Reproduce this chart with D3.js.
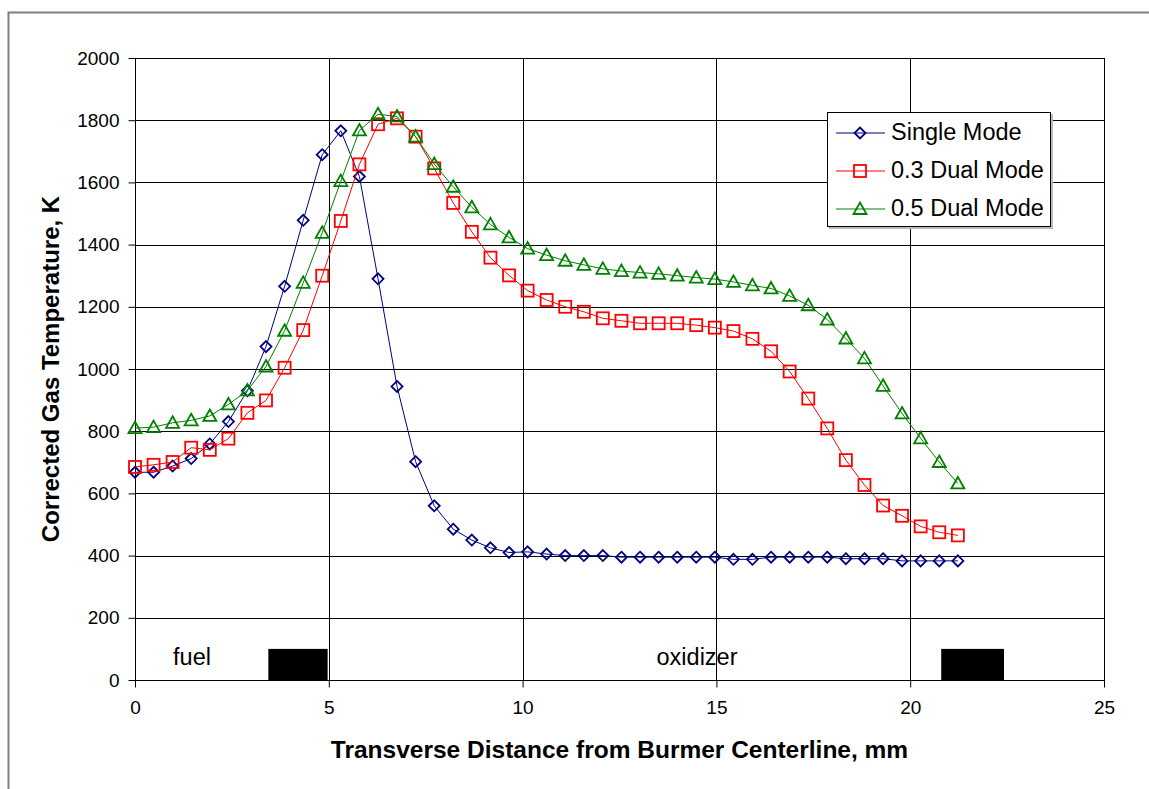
<!DOCTYPE html>
<html>
<head>
<meta charset="utf-8">
<script src="https://cdn.jsdelivr.net/npm/d3@7"></script>
<style>
  body { margin: 0; background: #fff; }
  svg { display: block; font-family: "Liberation Sans", Arial, sans-serif; }
</style>
</head>
<body>
<div id="chart"></div>
<script>
// positions across the burner, mm
const distance = [0, 0.48, 0.97, 1.45, 1.93, 2.41, 2.90, 3.38, 3.86, 4.34, 4.83, 5.31, 5.79, 6.27, 6.76,
  7.24, 7.72, 8.21, 8.69, 9.17, 9.65, 10.13, 10.62, 11.10, 11.58, 12.07, 12.55, 13.03, 13.51, 13.99,
  14.48, 14.96, 15.44, 15.93, 16.41, 16.89, 17.37, 17.86, 18.34, 18.82, 19.30, 19.79, 20.27, 20.75, 21.23];

const singleMode = [668, 668, 688, 712, 759, 831, 930, 1072, 1266, 1478, 1689, 1766, 1619, 1290, 944,
  702, 560, 485, 450, 425, 410, 412, 405, 400, 400, 400, 395, 395, 395, 395,
  395, 395, 388, 388, 395, 395, 395, 395, 390, 390, 390, 383, 383, 383, 383];

const dual03 = [685, 692, 701, 747, 740, 776, 859, 899, 1004, 1125, 1300, 1476, 1658, 1787, 1806,
  1747, 1645, 1534, 1441, 1358, 1301, 1252, 1222, 1200, 1184, 1163, 1155, 1147, 1147, 1147,
  1141, 1133, 1122, 1097, 1057, 992, 905, 809, 707, 627, 561, 528, 494, 475, 465];

const dual05 = [810, 813, 827, 835, 849, 886, 931, 1008, 1123, 1277, 1438, 1604, 1767, 1819, 1812,
  1747, 1659, 1586, 1520, 1465, 1423, 1387, 1366, 1348, 1335, 1322, 1315, 1310, 1306, 1300,
  1294, 1289, 1280, 1269, 1259, 1235, 1205, 1159, 1098, 1034, 946, 857, 777, 701, 632];

const seriesNames = ["Single Mode", "0.3 Dual Mode", "0.5 Dual Mode"];

// black blocks marking the fuel and oxidizer slots: [from, to, height]
const slots = [[3.44, 4.97, 100], [20.8, 22.42, 100]];
const slotLabels = [["fuel", 1.47], ["oxidizer", 14.5]];

const xTicks = [0, 5, 10, 15, 20, 25];
const yTicks = [0, 200, 400, 600, 800, 1000, 1200, 1400, 1600, 1800, 2000];

const width = 1149, height = 789;
const margin = { top: 58, left: 135, right: 45, bottom: 109 };

const svg = d3.select("#chart").append("svg")
  .attr("width", width)
  .attr("height", height);

// outer chart frame
svg.append("rect")
  .attr("x", 8.5).attr("y", 12.5)
  .attr("width", width + 20).attr("height", height + 20)
  .attr("fill", "none")
  .attr("stroke", "#808080")
  .attr("stroke-width", 2);

const x = d3.scaleLinear().domain([0, 25]).range([margin.left, width - margin.right]);
const y = d3.scaleLinear().domain([0, 2000]).range([height - margin.bottom, margin.top]);

const plotW = x(25) - x(0), plotH = y(0) - y(2000);

// grid
svg.append("g").selectAll("line")
  .data(yTicks.slice(1, -1)).enter().append("line")
  .attr("x1", x(0)).attr("x2", x(25))
  .attr("y1", d => Math.round(y(d)) + 0.5).attr("y2", d => Math.round(y(d)) + 0.5)
  .attr("stroke", "#000").attr("stroke-width", 1);

svg.append("g").selectAll("line")
  .data(xTicks.slice(1, -1)).enter().append("line")
  .attr("y1", y(0)).attr("y2", y(2000))
  .attr("x1", d => Math.round(x(d)) + 0.5).attr("x2", d => Math.round(x(d)) + 0.5)
  .attr("stroke", "#000").attr("stroke-width", 1);

// plot border
svg.append("rect")
  .attr("x", Math.round(x(0)) + 0.5).attr("y", Math.round(y(2000)) + 0.5)
  .attr("width", Math.round(plotW)).attr("height", Math.round(plotH))
  .attr("fill", "none").attr("stroke", "#000");

// axes
const yAxis = svg.append("g")
  .attr("transform", `translate(${Math.round(x(0)) + 0.5},0)`)
  .call(d3.axisLeft(y).tickValues(yTicks).tickFormat(d3.format("d")).tickSize(7).tickPadding(9));

const xAxis = svg.append("g")
  .attr("transform", `translate(0,${Math.round(y(0)) + 0.5})`)
  .call(d3.axisBottom(x).tickValues(xTicks).tickFormat(d3.format("d")).tickSize(7).tickPadding(13));

[xAxis, yAxis].forEach(a => {
  a.select(".domain").remove();
  a.selectAll("text")
    .attr("font-family", "Liberation Sans, Arial, sans-serif")
    .attr("font-size", "19px")
    .attr("fill", "#000");
  a.selectAll(".tick line").attr("stroke", "#000");
});

// slot blocks
svg.append("g").selectAll("rect")
  .data(slots).enter().append("rect")
  .attr("x", d => x(d[0]))
  .attr("y", d => y(d[2]))
  .attr("width", d => x(d[1]) - x(d[0]))
  .attr("height", d => y(0) - y(d[2]))
  .attr("fill", "#000");

svg.append("g").selectAll("text")
  .data(slotLabels).enter().append("text")
  .attr("x", d => x(d[1]))
  .attr("y", y(0) - 15)
  .attr("text-anchor", "middle")
  .attr("font-size", "23.5px")
  .text(d => d[0]);

// series
const colors = ["#000080", "#ff0000", "#008000"];
const values = [singleMode, dual03, dual05];

const diamond = (g, c) => g.append("path").attr("d", "M0,-5.5L5.5,0L0,5.5L-5.5,0Z")
  .attr("fill", "none").attr("stroke", c).attr("stroke-width", 1.8);
const square = (g, c) => g.append("rect").attr("x", -6).attr("y", -6).attr("width", 12).attr("height", 12)
  .attr("fill", "none").attr("stroke", c).attr("stroke-width", 1.8);
const triangle = (g, c) => g.append("path").attr("d", "M0,-6.5L6.5,5L-6.5,5Z")
  .attr("fill", "none").attr("stroke", c).attr("stroke-width", 1.8);
const markers = [diamond, square, triangle];

const line = d3.line()
  .x(d => x(d[0]))
  .y(d => y(d[1]));

values.forEach((vals, i) => {
  const pts = distance.map((d, j) => [d, vals[j]]);
  const g = svg.append("g").attr("class", "series");
  g.append("path")
    .attr("d", line(pts))
    .attr("fill", "none")
    .attr("stroke", colors[i])
    .attr("stroke-width", 1);
  g.selectAll(".mk")
    .data(pts).enter().append("g")
    .attr("class", "mk")
    .attr("transform", d => `translate(${x(d[0])},${y(d[1])})`)
    .each(function () { markers[i](d3.select(this), colors[i]); });
});

// legend
const legend = svg.append("g").attr("transform", "translate(827,112)");
legend.append("rect")
  .attr("x", 2).attr("y", 2).attr("width", 224).attr("height", 115)
  .attr("fill", "#bbb");
legend.append("rect")
  .attr("x", 0.5).attr("y", 0.5).attr("width", 223).attr("height", 114)
  .attr("fill", "#fff").attr("stroke", "#000");

seriesNames.forEach((name, i) => {
  const row = legend.append("g").attr("transform", `translate(0,${21 + i * 38})`);
  row.append("line")
    .attr("x1", 9).attr("x2", 58)
    .attr("stroke", colors[i]).attr("stroke-width", 1);
  const m = row.append("g").attr("transform", "translate(33,0)");
  markers[i](m, colors[i]);
  row.append("text")
    .attr("x", 64).attr("y", 7)
    .attr("font-size", "23.5px")
    .text(name);
});

// axis titles
svg.append("text")
  .attr("transform", `translate(59,${(y(0) + y(2000)) / 2}) rotate(-90)`)
  .attr("text-anchor", "middle")
  .attr("font-size", "24px")
  .attr("font-weight", "bold")
  .text("Corrected Gas Temperature, K");

svg.append("text")
  .attr("x", (x(0) + x(25)) / 2)
  .attr("y", 758)
  .attr("text-anchor", "middle")
  .attr("font-size", "24.5px")
  .attr("font-weight", "bold")
  .text("Transverse Distance from Burmer Centerline, mm");
</script>
</body>
</html>
